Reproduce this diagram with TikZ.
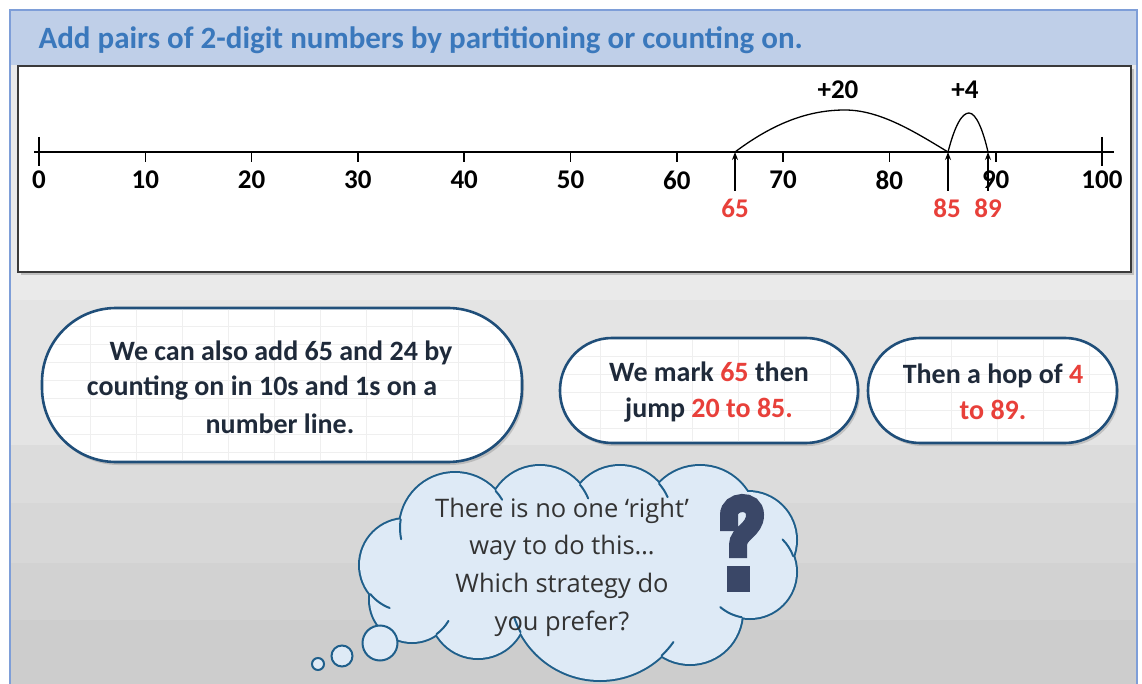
\documentclass[tikz,border=0pt]{standalone}
\usepackage{fontspec}
\setmainfont{Carlito}
\newfontfamily\cloudfont{Open Sans}
\usetikzlibrary{shadows,arrows.meta}
\definecolor{titleblue}{HTML}{3A78BC}
\definecolor{bandblue}{HTML}{BFCFE8}
\definecolor{edgeblue}{HTML}{7E9ED8}
\definecolor{bubbleedge}{HTML}{1F4E79}
\definecolor{bubbletext}{HTML}{1F2A3A}
\definecolor{numred}{HTML}{E8403A}
\definecolor{cloudfill}{HTML}{DEEAF6}
\definecolor{cloudedge}{HTML}{1F5F8B}
\definecolor{qcolor}{HTML}{3A4767}
\definecolor{gridc}{HTML}{EFEFEF}
\definecolor{bgA}{HTML}{EAEAEA}
\definecolor{bgB}{HTML}{E4E4E4}
\definecolor{bgC}{HTML}{DCDCDC}
\definecolor{bgD}{HTML}{D7D7D7}
\definecolor{bgE}{HTML}{D2D2D2}
\definecolor{bgF}{HTML}{CDCDCD}
\definecolor{boxedge}{HTML}{3A3A3A}
\tikzset{
  numlab/.style={font=\fontsize{27}{27}\selectfont\bfseries, anchor=center},
  redlab/.style={font=\fontsize{27}{27}\selectfont\bfseries, text=numred, anchor=center},
  jumplab/.style={font=\fontsize{27}{27}\selectfont\bfseries, anchor=center},
  bubble/.style={draw=bubbleedge, line width=2.6pt, fill=white,
    drop shadow={shadow xshift=2pt, shadow yshift=-3pt, opacity=0.35}},
  bubtext/.style={font=\fontsize{28}{36}\selectfont\bfseries, text=bubbletext, align=center},
  marker/.style={line width=1.6pt, -{Stealth[length=8pt,width=6pt]}},
  thought/.style={draw=cloudedge, line width=2pt, fill=cloudfill},
  innerstroke/.style={draw=cloudedge, line width=2pt, line cap=round}
}
\begin{document}
\begin{tikzpicture}[x=1pt,y=-1pt]
\useasboundingbox (0,0) rectangle (1142,684);
\fill[white] (0,0) rectangle (1142,684);
% background bands
\fill[bgA] (10,65) rectangle (1137,300);
\fill[bgB] (10,300) rectangle (1137,445);
\fill[bgC] (10,445) rectangle (1137,503);
\fill[bgD] (10,503) rectangle (1137,563);
\fill[bgE] (10,563) rectangle (1137,620);
\fill[bgF] (10,620) rectangle (1137,684);
% title band
\fill[bandblue] (10,10) rectangle (1137,65);
\draw[edgeblue, line width=1.5pt] (10,684) -- (10,10) -- (1137,10) -- (1137,684);
\node[anchor=west, text=titleblue, font=\fontsize{31}{31}\selectfont\bfseries] (title) at (35,40)
  {Add pairs of 2-digit numbers by partitioning or counting on.};
% number line box
\draw[boxedge, line width=2pt, fill=white,
  drop shadow={shadow xshift=3pt, shadow yshift=-3pt, opacity=0.4}] (18,66) rectangle (1131,272);
\coordinate (L) at (34,152);
\coordinate (R) at (1114,152);
\draw[line width=1.3pt] (L) -- (R);
\draw[line width=1.6pt] (39,137) -- (39,166);
\draw[line width=1.6pt] (1102,137) -- (1102,166);
\foreach \i in {1,...,9} {
  \draw[line width=1.6pt] ({39+\i*106.3},152) -- ({39+\i*106.3},162);
}
\foreach \i/\t in {0/0,1/10,2/20,3/30,4/40,5/50,6/60,7/70,8/80,9/90,10/100} {
  \node[numlab] (n\t) at ({39+\i*106.3},180) {\t};
}
% markers
\coordinate (p65) at (735,152);
\coordinate (p85) at (948,152);
\coordinate (p89) at (988,152);
\node[redlab] (r65) at (735,208) {65};
\node[redlab] (r85) at (947,208) {85};
\node[redlab] (r89) at (988,208) {89};
\draw[marker] (735,191) -- (p65);
\draw[marker] (948,191) -- (p85);
\draw[marker] (988,191) -- (p89);
% jumps
\draw[line width=1.3pt] (p65) .. controls (775,122) and (810,110) .. (845,110)
  .. controls (880,110) and (915,132) .. (p85);
\draw[line width=1.3pt] (p85) .. controls (955,125) and (962,113) .. (969,113)
  .. controls (976,113) and (983,130) .. (p89);
\node[jumplab] (j20) at (838,90) {+20};
\node[jumplab] (j4) at (965,90) {+4};
% bubble 1
\draw[bubble, rounded corners=74] (42,308) rectangle (522,462);
\begin{scope}
  \clip[rounded corners=72] (44,310) rectangle (520,460);
  \foreach \x in {90,136,...,520} \draw[gridc, line width=0.8pt] (\x,308) -- (\x,462);
  \foreach \y in {326,344,...,462} \draw[gridc, line width=0.8pt] (42,\y) -- (522,\y);
\end{scope}
\node[bubtext] (t1a) at (281,353) {We can also add 65 and 24 by};
\node[bubtext] (t1b) at (262,388) {counting on in 10s and 1s on a};
\node[bubtext] (t1c) at (280,424) {number line.};
% bubble 2
\draw[bubble, rounded corners=52] (560,338) rectangle (858,443);
\begin{scope}
  \clip[rounded corners=50] (562,340) rectangle (856,441);
  \foreach \x in {600,646,...,858} \draw[gridc, line width=0.8pt] (\x,338) -- (\x,443);
  \foreach \y in {356,374,...,443} \draw[gridc, line width=0.8pt] (560,\y) -- (858,\y);
\end{scope}
\node[bubtext] (t2) at (709,392) {We mark \textcolor{numred}{65} then\\jump \textcolor{numred}{20 to 85.}};
% bubble 3
\draw[bubble, rounded corners=52] (868,338) rectangle (1117,443);
\begin{scope}
  \clip[rounded corners=50] (870,340) rectangle (1115,441);
  \foreach \x in {905,951,...,1117} \draw[gridc, line width=0.8pt] (\x,338) -- (\x,443);
  \foreach \y in {356,374,...,443} \draw[gridc, line width=0.8pt] (868,\y) -- (1117,\y);
\end{scope}
\node[bubtext] (t3) at (993,392) {Then a hop of \textcolor{numred}{4}\\\textcolor{numred}{to 89.}};
% thought cloud: union of puffs (outline drawn first, fill on top)
\def\puffs{455/528/55, 540/518/52, 620/518/52, 700/522/56, 748/540/48, 750/572/46,
  690/612/52, 600/590/90, 478/610/48, 412/600/42, 406/565/46}
\foreach \x/\y/\r in \puffs { \draw[cloudedge, line width=4pt] (\x,\y) circle[radius=\r]; }
\foreach \x/\y/\r in \puffs { \fill[cloudfill] (\x,\y) circle[radius=\r]; }
\fill[cloudfill] (455,528) -- (540,518) -- (620,518) -- (700,522) -- (748,540) -- (750,572)
  -- (690,612) -- (600,590) -- (478,610) -- (412,600) -- (406,565) -- cycle;
\coordinate (cloud) at (578,570);
% inner strokes: continue one puff's arc past the outer junction with its neighbour
\foreach \ax/\ay/\ar/\bx/\by/\br/\ql in {455/528/55/540/518/52/11, 540/518/52/620/518/52/16,
  620/518/52/700/522/56/16, 750/572/46/748/540/48/20, 750/572/46/690/612/52/24,
  600/590/90/690/612/52/18, 600/590/90/478/610/48/16, 412/600/42/478/610/48/18,
  406/565/46/412/600/42/24, 455/528/55/406/565/46/20} {
  \pgfmathsetmacro\qdx{\bx-\ax}
  \pgfmathsetmacro\qdy{\by-\ay}
  \pgfmathsetmacro\qd{veclen(\qdx,\qdy)}
  \pgfmathsetmacro\qa{(\ar*\ar-\br*\br)/(2*\qd)+\qd/2}
  \pgfmathsetmacro\qh{sqrt(\ar*\ar-\qa*\qa)}
  \pgfmathsetmacro\qmx{\ax+\qa*\qdx/\qd}
  \pgfmathsetmacro\qmy{\ay+\qa*\qdy/\qd}
  \pgfmathsetmacro\qpxa{\qmx-\qh*\qdy/\qd}
  \pgfmathsetmacro\qpya{\qmy+\qh*\qdx/\qd}
  \pgfmathsetmacro\qpxb{\qmx+\qh*\qdy/\qd}
  \pgfmathsetmacro\qpyb{\qmy-\qh*\qdx/\qd}
  \pgfmathsetmacro\qda{((\qpxa-578)/10)^2+((\qpya-570)/10)^2}
  \pgfmathsetmacro\qdb{((\qpxb-578)/10)^2+((\qpyb-570)/10)^2}
  \pgfmathsetmacro\qpx{\qda>\qdb ? \qpxa : \qpxb}
  \pgfmathsetmacro\qpy{\qda>\qdb ? \qpya : \qpyb}
  \pgfmathsetmacro\qth{atan2(\qpy-\ay,\qpx-\ax)}
  \pgfmathsetmacro\qph{atan2(\qdy,\qdx)}
  \pgfmathsetmacro\qsg{sin(\qph-\qth)>0 ? 1 : -1}
  \pgfmathsetmacro\qdl{\qsg*\ql/\ar*57.3}
  \draw[innerstroke] (\qpx,\qpy) arc[start angle=\qth, delta angle=\qdl, radius=\ar];
}
% thought circles
\node[thought, circle, minimum size=35pt, inner sep=0pt] (c3) at (380,643) {};
\node[thought, circle, minimum size=21pt, inner sep=0pt] (c2) at (342,656) {};
\node[thought, circle, minimum size=12pt, inner sep=0pt] (c1) at (318,664) {};
\node[font=\cloudfont\fontsize{25.5}{37.7}\selectfont, text=black!80, align=center] (ct) at (562,567)
  {There is no one ‘right’\\way to do this…\\Which strategy do\\you prefer?};
% question mark
\draw[qcolor, line width=18pt] (729,531) -- (729,515) .. controls (729,500) and (755,498) .. (755,515)
  .. controls (755,530) and (738,533) .. (738,545) -- (738,558);
\fill[qcolor] (727,566) rectangle (750,592);
\coordinate (q) at (738,545);
\end{tikzpicture}
\end{document}
